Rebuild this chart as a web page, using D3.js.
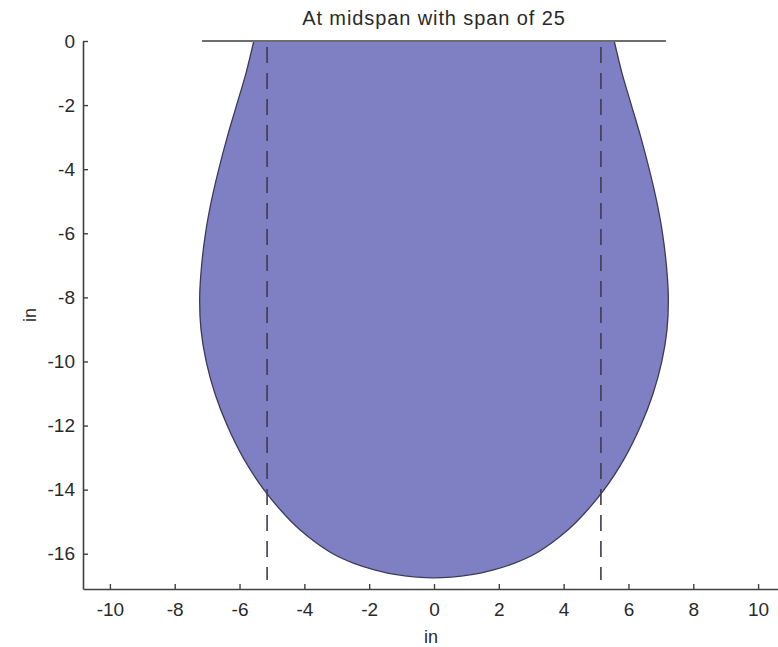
<!DOCTYPE html>
<html>
<head>
<meta charset="utf-8">
<script src="https://cdn.jsdelivr.net/npm/d3@7"></script>
<style>
  html, body { margin: 0; padding: 0; background: #fff; }
  svg { display: block; }
  text { font-family: "Liberation Sans", Arial, sans-serif; fill: #2a2a2a; }
</style>
</head>
<body>
<svg id="chart" width="778" height="647"></svg>
<script>
// Cross-section profile: depth (in) and half-width (in) of the section at that depth
const depths     = [0, -1, -2, -3, -4, -5, -6, -7, -8, -9, -10, -11, -12, -13, -14, -15, -15.5, -16, -16.3, -16.5, -16.65, -16.75];
const halfWidths = [5.56, 5.80, 6.09, 6.38, 6.64, 6.87, 7.05, 7.17, 7.23, 7.19, 7.03, 6.76, 6.38, 5.89, 5.25, 4.40, 3.84, 3.12, 2.47, 1.84, 1.16, 0];

// Top surface line and the two dashed vertical guides
const topLineX   = [-7.16, 7.16];
const guideX     = [-5.15, 5.15];
const guideDepth = [0, -16.82];

// Axis ticks
const xTicks = [-10, -8, -6, -4, -2, 0, 2, 4, 6, 8, 10];
const yTicks = [0, -2, -4, -6, -8, -10, -12, -14, -16];
const xDomain = [-10.83, 10.83];
const yDomain = [-17.1, 0];

const titleText = "At midspan with span of 25";
const xLabel = "in";
const yLabel = "in";

const svg = d3.select("#chart");
const x = d3.scaleLinear().domain(xDomain).range([83, 785]);
const y = d3.scaleLinear().domain(yDomain).range([589, 41]);

// Closed outline: right side top->bottom, then left side bottom->top
const right = depths.map((d, i) => [halfWidths[i], d]);
const left = depths.slice(0, -1).map((d, i) => [-halfWidths[i], d]).reverse();
const outline = right.concat(left);

const line = d3.line()
  .x(d => x(d[0]))
  .y(d => y(d[1]))
  .curve(d3.curveCatmullRom.alpha(0.5));

svg.append("path")
  .attr("d", line(outline) + "Z")
  .attr("fill", "#7f80c4")
  .attr("stroke", "#3b3b58")
  .attr("stroke-width", 1.3)
  .attr("stroke-linejoin", "round");

// Dashed guides
svg.selectAll("line.guide")
  .data(guideX)
  .join("line")
  .attr("class", "guide")
  .attr("x1", d => x(d)).attr("x2", d => x(d))
  .attr("y1", y(guideDepth[0])).attr("y2", y(guideDepth[1]))
  .attr("stroke", "#3c3c50")
  .attr("stroke-width", 1.6)
  .attr("stroke-dasharray", "16,10")
  .attr("stroke-dashoffset", -6);

// Top surface
svg.append("line")
  .attr("x1", x(topLineX[0])).attr("x2", x(topLineX[1]))
  .attr("y1", y(0)).attr("y2", y(0))
  .attr("stroke", "#6e6e6e")
  .attr("stroke-width", 2);

// Axes (ticks pointing inward)
const fmt = d => String(d);
const xAxis = d3.axisBottom(x).tickValues(xTicks).tickFormat(fmt)
  .tickSizeInner(-5).tickSizeOuter(0).tickPadding(14);
const yAxis = d3.axisLeft(y).tickValues(yTicks).tickFormat(fmt)
  .tickSizeInner(-5).tickSizeOuter(0).tickPadding(8);

const gx = svg.append("g").attr("transform", `translate(0,${y(yDomain[0])})`).call(xAxis);
const gy = svg.append("g").attr("transform", `translate(${x(xDomain[0])},0)`).call(yAxis);

[gx, gy].forEach(g => {
  g.select(".domain").attr("stroke", "#404040").attr("stroke-width", 1.6);
  g.selectAll(".tick line").attr("stroke", "#404040").attr("stroke-width", 1.4);
  g.selectAll(".tick text")
    .attr("font-family", "Liberation Sans, Arial, sans-serif")
    .attr("font-size", 19)
    .attr("fill", "#333");
});

// Title and axis labels
svg.append("text")
  .attr("x", x(0)).attr("y", 25)
  .attr("text-anchor", "middle")
  .attr("font-size", 20)
  .attr("letter-spacing", 0.9)
  .attr("fill", "#333")
  .text(titleText);

svg.append("text")
  .attr("x", x(0) - 3).attr("y", 643)
  .attr("text-anchor", "middle")
  .attr("font-size", 18)
  .attr("fill", "#333")
  .text(xLabel);

svg.append("text")
  .attr("transform", `translate(36,${(y(yDomain[0]) + y(0)) / 2}) rotate(-90)`)
  .attr("text-anchor", "middle")
  .attr("font-size", 18)
  .attr("fill", "#333")
  .text(yLabel);
</script>
</body>
</html>
